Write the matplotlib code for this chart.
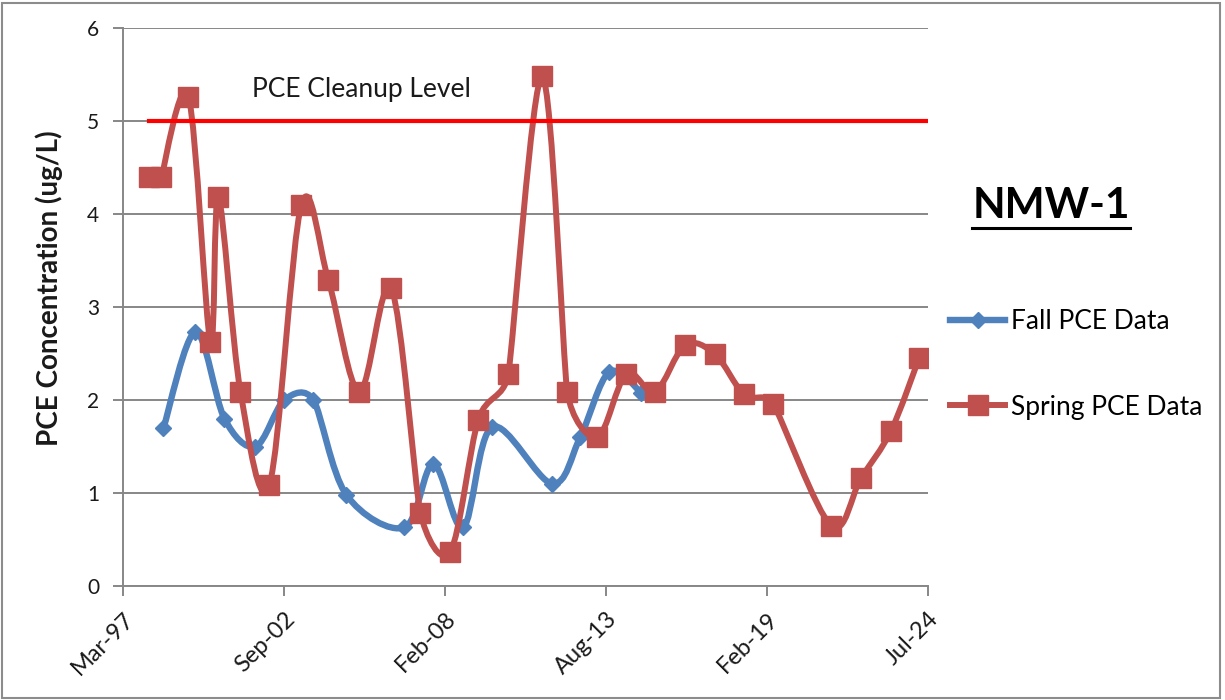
import numpy as np
import matplotlib
matplotlib.use("Agg")
import matplotlib.pyplot as plt
import matplotlib.dates as mdates
from matplotlib.path import Path
from matplotlib.patches import PathPatch, Rectangle
from matplotlib.lines import Line2D

# Fall sampling events
fall_dates = ["1998-07-31", "1999-09-01", "2000-08-26", "2001-09-15", "2002-09-10",
              "2003-09-05", "2004-10-19", "2006-10-09", "2007-10-04", "2008-10-10",
              "2009-10-05", "2011-10-19", "2012-10-02", "2013-09-27", "2014-10-29"]
fall_pce = [1.70, 2.73, 1.80, 1.50, 2.00, 2.00, 0.98, 0.63, 1.31, 0.63,
            1.71, 1.10, 1.60, 2.30, 2.08]

# Spring sampling events
spring_dates = ["1998-02-07", "1998-07-06", "1999-06-06", "2000-03-05", "2000-06-13",
                "2001-03-13", "2002-03-08", "2003-04-09", "2004-03-09", "2005-03-29",
                "2006-04-30", "2007-04-25", "2008-05-02", "2009-04-15", "2010-04-22",
                "2011-06-18", "2012-04-23", "2013-05-01", "2014-04-26", "2015-04-21",
                "2016-04-27", "2017-05-05", "2018-04-30", "2019-04-25", "2021-04-14",
                "2022-04-21", "2023-04-29", "2024-04-11"]
spring_pce = [4.40, 4.40, 5.26, 2.62, 4.18, 2.09, 1.09, 4.10, 3.29, 2.09,
              3.20, 0.79, 0.37, 1.79, 2.28, 5.48, 2.09, 1.60, 2.28, 2.09,
              2.59, 2.49, 2.06, 1.96, 0.65, 1.16, 1.67, 2.45]

cleanup_dates = ["1998-02-07", "2024-07-31"]
cleanup_level = [5, 5]

axis_start = "1997-03-15"
axis_end = "2024-07-31"
tick_step_days = 2000

BLUE = "#4F81BD"
RED = "#C0504D"
GRID = "#878787"


def to_num(dates):
    return mdates.date2num(np.array(dates, dtype="datetime64[D]"))


def smooth_path(ax, x, y):
    # Excel-like smoothed line, control legs worked out in screen space
    pts = ax.transData.transform(np.column_stack([x, y]).astype(float))
    n = len(pts)
    legs = []
    for i in range(n):
        p0 = pts[max(i - 1, 0)]
        p1 = pts[i]
        p2 = pts[min(i + 1, n - 1)]
        d01 = np.hypot(*(p1 - p0))
        d12 = np.hypot(*(p2 - p1))
        d02 = np.hypot(*(p2 - p0))
        f = 1 / 6
        if d02 > 0:
            lim = min(d01 if i > 0 else d12, d12 if i < n - 1 else d01) / 2
            if d02 * f > lim:
                f = lim / d02
        legs.append((p2 - p0) * f)
    verts = [pts[0]]
    codes = [Path.MOVETO]
    for i in range(n - 1):
        verts += [pts[i] + legs[i], pts[i + 1] - legs[i + 1], pts[i + 1]]
        codes += [Path.CURVE4] * 3
    verts = ax.transData.inverted().transform(np.array(verts))
    return Path(verts, codes)


plt.rcParams["font.family"] = ["Lato", "DejaVu Sans"]

fig = plt.figure(figsize=(12.25, 7), dpi=100)
ax = fig.add_axes([123 / 1225, 1 - 586 / 700, 805 / 1225, 558 / 700])

# axes
x0 = to_num([axis_start])[0]
ax.set_xlim(x0, to_num([axis_end])[0])
ax.set_ylim(0, 6)
ax.set_xticks(x0 + np.arange(6) * tick_step_days)
ax.xaxis.set_major_formatter(mdates.DateFormatter("%b-%y"))
ax.set_yticks(range(7))
ax.yaxis.grid(True, color=GRID, lw=1.4)
ax.set_axisbelow(True)
for s in ["top", "right"]:
    ax.spines[s].set_visible(False)
for s in ["left", "bottom"]:
    ax.spines[s].set_color(GRID)
    ax.spines[s].set_linewidth(1.4)
ax.tick_params(axis="both", colors=GRID, width=1.4, length=7,
               labelcolor="#1a1a1a")
ax.tick_params(axis="y", pad=10, labelsize=15)
ax.tick_params(axis="x", pad=9, labelsize=17)
for lab in ax.get_xticklabels():
    lab.set_rotation(45)
    lab.set_ha("right")
    lab.set_va("top")
    lab.set_rotation_mode("anchor")

fx, sx = to_num(fall_dates), to_num(spring_dates)

ax.add_patch(PathPatch(smooth_path(ax, fx, fall_pce), fill=False, edgecolor=BLUE,
                       lw=4.6, capstyle="round", joinstyle="round", zorder=3))
ax.plot(fx, fall_pce, ls="none", marker="D", ms=8, color=BLUE, zorder=4)

ax.add_patch(PathPatch(smooth_path(ax, sx, spring_pce), fill=False, edgecolor=RED,
                       lw=4.3, capstyle="round", joinstyle="round", zorder=5))
ax.plot(sx, spring_pce, ls="none", marker="s", ms=14, color=RED, zorder=6)

ax.plot(to_num(cleanup_dates), cleanup_level, color="#FF0000", lw=3, zorder=7)

ax.text(0.160, 0.889, "PCE Cleanup Level", transform=ax.transAxes,
        fontsize=19, color="#1a1a1a", va="center", ha="left")

fig.text(49 / 1225, 1 - 288 / 700, "PCE Concentration (ug/L)", rotation=90,
         fontsize=20, fontweight="bold", ha="center", va="center", color="#1a1a1a")

# legend
handles = [Line2D([], [], color=BLUE, lw=4.6, marker="D", ms=8),
           Line2D([], [], color=RED, lw=4.3, marker="s", ms=14)]
ax.legend(handles, ["Fall PCE Data", "Spring PCE Data"], loc="upper left",
          bbox_to_anchor=(950 / 1225, 1 - 309 / 700), bbox_transform=fig.transFigure,
          frameon=False, fontsize=19, handlelength=2.1, handletextpad=0.2,
          labelspacing=2.3, borderpad=0, borderaxespad=0)

# well title, underlined
title = fig.text(1051 / 1225, 1 - 206 / 700, "NMW-1", fontsize=30.5, fontweight="bold",
                 ha="center", va="center", color="black")
fig.canvas.draw()
bb = title.get_window_extent()
fig.add_artist(Line2D([bb.x0 / 1225, bb.x1 / 1225], [1 - 228 / 700, 1 - 228 / 700],
                      transform=fig.transFigure, color="black", lw=2.2))

# chart border
fig.add_artist(Rectangle((2 / 1225, 2 / 700), 1218 / 1225, 695 / 700,
                         transform=fig.transFigure, fill=False,
                         edgecolor="#8c8c8c", lw=1.5))

fig.savefig("out.png", dpi=100)
